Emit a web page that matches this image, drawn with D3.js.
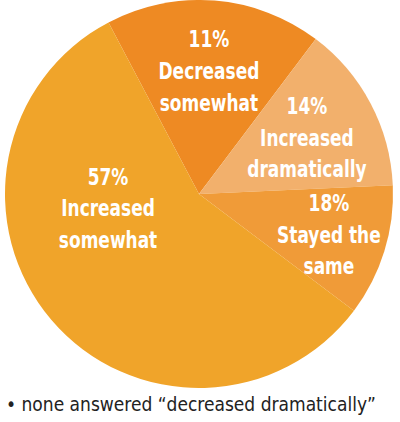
<!DOCTYPE html>
<meta charset="utf-8">
<style>
body { margin: 0; background: #fff; }
svg { display: block; }
.slice-label {
  fill: #fff;
  font-family: "DejaVu Sans Condensed", "DejaVu Sans", sans-serif;
  font-stretch: condensed;
  font-weight: bold;
  font-size: 21px;
  text-anchor: middle;
}
.note {
  fill: #222;
  font-family: "DejaVu Sans Condensed", "DejaVu Sans", sans-serif;
  font-stretch: condensed;
  font-size: 19px;
}
</style>
<svg width="400" height="422"></svg>
<script src="https://d3js.org/d3.v7.min.js"></script>
<script>

// slices, clockwise from the top-left edge
var categories = ["Decreased somewhat", "Increased dramatically", "Stayed the same", "Increased somewhat"];
// share of the circle each slice takes in the drawing
var sliceShares = [18, 14, 11, 57];
// percent printed on each slice
var pctLabels = ["11%", "14%", "18%", "57%"];
var labelLines = [["Decreased", "somewhat"], ["Increased", "dramatically"], ["Stayed the", "same"], ["Increased", "somewhat"]];
var colors = ["#ee8a23", "#f2b06c", "#f09b38", "#f0a42a"];
var note = "• none answered “decreased dramatically”";

var svg = d3.select("svg"),
    cx = 199, cy = 194, radius = 194;

var pie = d3.pie()
    .sort(null)
    .startAngle(-27.8 * Math.PI / 180)
    .endAngle(332.2 * Math.PI / 180);

var arc = d3.arc().innerRadius(0).outerRadius(radius);

var arcs = pie(sliceShares);

var g = svg.append("g").attr("transform", "translate(" + cx + "," + cy + ")");

g.selectAll("path")
  .data(arcs)
  .enter().append("path")
    .attr("d", arc)
    .attr("fill", function(d, i) { return colors[i]; });

// label spots: radius along slice middle, big slice gets its own angle
var labelRadius = [124, 122, 136, 92];
var labelAngle = [null, null, null, -98.7 * Math.PI / 180];

var labels = g.selectAll("text.slice-label")
  .data(arcs)
  .enter().append("text")
    .attr("class", "slice-label")
    .attr("transform", function(d, i) {
      var a = labelAngle[i] != null ? labelAngle[i] : (d.startAngle + d.endAngle) / 2;
      var x = Math.sin(a) * labelRadius[i], y = -Math.cos(a) * labelRadius[i];
      // squeeze a bit, the original face is narrower and taller
      return "translate(" + x + "," + y + ") scale(0.9,1.06)";
    });

labels.each(function(d, i) {
  var t = d3.select(this);
  var lines = [pctLabels[i]].concat(labelLines[i]);
  lines.forEach(function(s, k) {
    t.append("tspan")
      .attr("x", 0)
      .attr("y", (k - 1) * 30 + 8)
      .text(s);
  });
});

svg.append("text")
  .attr("class", "note")
  .attr("x", 6)
  .attr("y", 411)
  .text(note);

</script>
